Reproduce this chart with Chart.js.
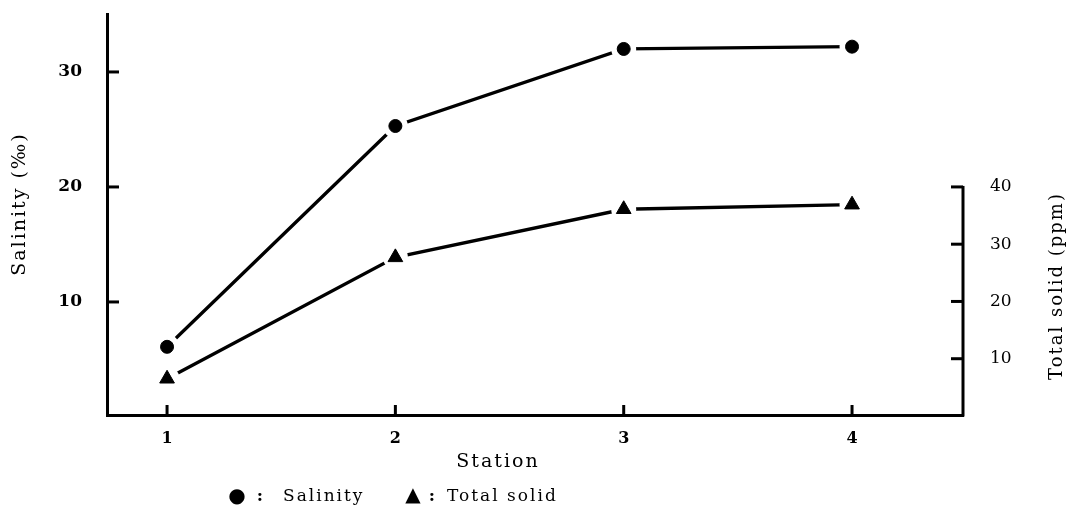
<!DOCTYPE html>
<html><head><meta charset="utf-8">
<script src="https://cdn.jsdelivr.net/npm/chart.js@4"></script>
<style>html,body{margin:0;padding:0;background:#fff;overflow:hidden}#wrap{width:1071px;height:513px;position:relative}</style>
</head><body><div id="wrap"><canvas id="c" width="1071" height="513"></canvas></div>
<script>
const stations = [1, 2, 3, 4];
const stationLabels = ['1', '2', '3', '4'];
const salinity = [6.1, 25.3, 32.0, 32.2];
const totalSolid = [6.5, 27.7, 36.1, 36.9];
const salinityTicks = [10, 20, 30];
const solidTicks = [10, 20, 30, 40];
const xTitle = 'Station';
const yTitle = 'Salinity (‰)';
const y2Title = 'Total solid (ppm)';
const legendNames = ['Salinity', 'Total solid'];

const SERIF = "'DejaVu Serif', 'Liberation Serif', serif";
const pts = arr => stations.map((s, i) => ({x: s, y: arr[i]}));

const lineDs = (arr, axis) => ({data: pts(arr), yAxisID: axis, borderColor: '#000', borderWidth: 3.3,
  pointRadius: 0, tension: 0, fill: false, order: 3});
const haloDs = (arr, axis) => ({data: pts(arr), yAxisID: axis, showLine: false, pointRadius: 12.5,
  pointBackgroundColor: '#fff', pointBorderColor: '#fff', pointBorderWidth: 0, order: 2});
const markDs = (arr, axis, style, r) => ({data: pts(arr), yAxisID: axis, showLine: false, pointStyle: style,
  pointRadius: r, pointBackgroundColor: '#000', pointBorderColor: '#000', pointBorderWidth: 1, order: 1});

const noPad = s => { s.paddingTop = 0; s.paddingBottom = 0; s.paddingLeft = 0; s.paddingRight = 0; };

const decor = {
  id: 'decor',
  afterDraw(chart) {
    const ctx = chart.ctx, a = chart.chartArea;
    const sx = chart.scales.x, sy = chart.scales.y, sy2 = chart.scales.y2;
    ctx.save();
    ctx.strokeStyle = '#000'; ctx.lineWidth = 3; ctx.lineCap = 'butt';
    salinityTicks.forEach(v => { const y = sy.getPixelForValue(v); ctx.beginPath(); ctx.moveTo(a.left, y); ctx.lineTo(a.left + 12, y); ctx.stroke(); });
    solidTicks.forEach(v => { const y = sy2.getPixelForValue(v); ctx.beginPath(); ctx.moveTo(a.right, y); ctx.lineTo(a.right - 12, y); ctx.stroke(); });
    stations.forEach(v => { const x = sx.getPixelForValue(v); ctx.beginPath(); ctx.moveTo(x, a.bottom); ctx.lineTo(x, a.bottom - 10); ctx.stroke(); });
    ctx.beginPath(); ctx.moveTo(a.right, a.bottom + 1.5); ctx.lineTo(a.right, sy2.getPixelForValue(solidTicks[solidTicks.length - 1]) - 1); ctx.stroke();

    ctx.fillStyle = '#000';
    ctx.textBaseline = 'middle';
    ctx.font = '19px ' + SERIF; ctx.letterSpacing = '2px'; ctx.textAlign = 'center';
    ctx.fillText(xTitle, 498, 462);
    ctx.save(); ctx.translate(20, 204); ctx.rotate(-Math.PI / 2);
    ctx.font = '19px ' + SERIF; ctx.fillText(yTitle, 0, 0); ctx.restore();
    ctx.save(); ctx.translate(1057, 286); ctx.rotate(-Math.PI / 2);
    ctx.font = '18px ' + SERIF; ctx.fillText(y2Title, 0, 0); ctx.restore();
    ctx.letterSpacing = '0px';
    ctx.textAlign = 'center';
    ctx.font = '20px ' + SERIF;
    ctx.fillText('●', 237, 497);
    ctx.fillText('▲', 413, 496);
    ctx.font = 'bold 17px ' + SERIF;
    ctx.fillText(':', 260, 497);
    ctx.fillText(':', 432, 497);
    ctx.textAlign = 'left';
    ctx.font = '17px ' + SERIF; ctx.letterSpacing = '2px';
    ctx.fillText(legendNames[0], 283, 497);
    ctx.fillText(legendNames[1], 447, 497);
    ctx.restore();
  }
};

new Chart(document.getElementById('c'), {
  type: 'line',
  data: {datasets: [
    lineDs(salinity, 'y'), lineDs(totalSolid, 'y2'),
    haloDs(salinity, 'y'), haloDs(totalSolid, 'y2'),
    markDs(salinity, 'y', 'circle', 6.5), markDs(totalSolid, 'y2', 'triangle', 8.5)
  ]},
  options: {
    responsive: false, animation: false, devicePixelRatio: 1,
    layout: {autoPadding: false, padding: {top: 14, left: 0, right: 0, bottom: 0}},
    plugins: {legend: {display: false}, tooltip: {enabled: false}},
    scales: {
      x: {type: 'linear', position: 'bottom', min: 0.737, max: 4.486,
        border: {display: true, color: '#000', width: 3},
        grid: {display: false, drawTicks: false},
        afterBuildTicks: s => { s.ticks = stations.map(v => ({value: v})); },
        afterFit: s => { s.height = 98; noPad(s); },
        ticks: {color: '#000', padding: 14, font: {family: SERIF, size: 16, weight: 'bold'},
          callback: v => { const i = stations.indexOf(v); return i >= 0 ? stationLabels[i] : ''; }}},
      y: {type: 'linear', position: 'left', min: 0.17, max: 35.04,
        border: {display: true, color: '#000', width: 3},
        grid: {display: false, drawTicks: false},
        afterBuildTicks: s => { s.ticks = salinityTicks.map(v => ({value: v})); },
        afterFit: s => { s.width = 107; noPad(s); },
        ticks: {color: '#000', padding: 25, font: {family: SERIF, size: 17, weight: 'bold'}}},
      y2: {type: 'linear', position: 'right', min: 0.17, max: 70.2,
        border: {display: false},
        grid: {display: false, drawTicks: false},
        afterBuildTicks: s => { s.ticks = solidTicks.map(v => ({value: v})); },
        afterFit: s => { s.width = 108; noPad(s); },
        ticks: {color: '#000', padding: 27, font: {family: SERIF, size: 17}}}
    }
  },
  plugins: [decor]
});
</script></body></html>
